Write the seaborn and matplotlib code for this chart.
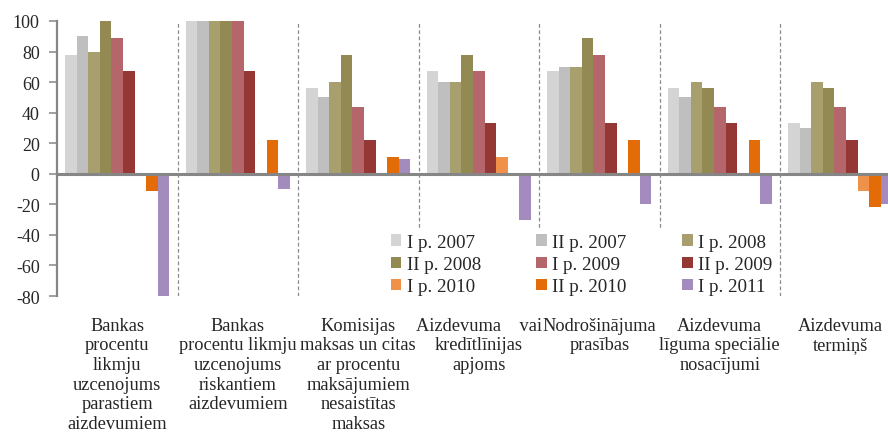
import matplotlib
matplotlib.use("Agg")
from matplotlib import pyplot as plt
import seaborn as sns
import pandas as pd

categories = [
    "Bankas\nprocentu\nlikmju\nuzcenojums\nparastiem\naizdevumiem",
    "Bankas\nprocentu likmju\nuzcenojums\nriskantiem\naizdevumiem",
    "Komisijas\nmaksas un citas\nar procentu\nmaksājumiem\nnesaistītas\nmaksas",
    "Aizdevuma    vai\nkredītlīnijas\napjoms",
    "Nodrošinājuma\nprasības",
    "Aizdevuma\nlīguma speciālie\nnosacījumi",
    "Aizdevuma\ntermiņš",
]
periods = ["I p. 2007", "II p. 2007", "I p. 2008", "II p. 2008", "I p. 2009",
           "II p. 2009", "I p. 2010", "II p. 2010", "I p. 2011"]

p2007_1 = [78, 100, 56, 67, 67, 56, 33]
p2007_2 = [90, 100, 50, 60, 70, 50, 30]
p2008_1 = [80, 100, 60, 60, 70, 60, 60]
p2008_2 = [100, 100, 78, 78, 89, 56, 56]
p2009_1 = [89, 100, 44, 67, 78, 44, 44]
p2009_2 = [67, 67, 22, 33, 33, 33, 22]
p2010_1 = [0, 0, 0, 11, 0, 0, -11]
p2010_2 = [-11, 22, 11, 0, 22, 22, -22]
p2011_1 = [-80, -10, 10, -30, -20, -20, -20]

colors = ["#D4D4D4", "#BFBFBF", "#A89F6E", "#938953", "#B5666A",
          "#953735", "#F0914A", "#E36C09", "#A38BBE"]

series = [p2007_1, p2007_2, p2008_1, p2008_2, p2009_1,
          p2009_2, p2010_1, p2010_2, p2011_1]
rows = []
for per, vals in zip(periods, series):
    for cat, v in zip(categories, vals):
        rows.append({"cat": cat, "period": per, "val": v})
df = pd.DataFrame(rows)

sns.set_style("white")
plt.rcParams["font.family"] = ["Liberation Serif", "DejaVu Serif"]
plt.rcParams["axes.unicode_minus"] = False

fig = plt.figure(figsize=(8.88, 4.35), dpi=100)
ax = fig.add_axes([57 / 888, 1 - 297 / 435, 843.5 / 888, 275 / 435])

sns.barplot(data=df, x="cat", y="val", hue="period", order=categories,
            hue_order=periods, palette=colors, width=0.86, gap=0,
            saturation=1, errorbar=None, ax=ax, zorder=3,
            linewidth=0, edgecolor="none")

for x in [0.5, 1.5, 2.5, 3.5, 4.5, 5.5]:
    ax.axvline(x, color="#8C8C8C", lw=0.9, ls=(0, (3, 2)), zorder=1)
ax.axhline(0, color="#868686", lw=2.2, zorder=4)

ax.set_xlim(-0.5, 6.5)
ax.set_ylim(-80, 100)
ax.set_yticks(range(-80, 101, 20))
ax.set_xlabel("")
ax.set_ylabel("")
for s in ["top", "right", "bottom"]:
    ax.spines[s].set_visible(False)
ax.spines["left"].set_color("#868686")
ax.spines["left"].set_linewidth(1.6)
ax.tick_params(axis="y", length=5.5, width=1.1, color="#868686",
               labelsize=13, pad=7, left=True)
ax.tick_params(axis="x", length=0, labelsize=13.2, pad=15)
for t in ax.get_xticklabels():
    t.set_linespacing(1.2)

# legend filled row by row
handles, labels = ax.get_legend_handles_labels()
idx = [0, 3, 6, 1, 4, 7, 2, 5, 8]
ax.legend([handles[i] for i in idx], [labels[i] for i in idx],
          ncol=3, loc="upper left", bbox_to_anchor=(385 / 888, 1 - 229 / 435),
          bbox_transform=fig.transFigure, fontsize=13.7, frameon=True,
          facecolor="white", edgecolor="none", framealpha=1, fancybox=False,
          handlelength=0.55, handleheight=0.55, handletextpad=0.3,
          columnspacing=2.9, labelspacing=0.28, borderpad=0.3,
          borderaxespad=0)

fig.savefig("out.png", dpi=100)
